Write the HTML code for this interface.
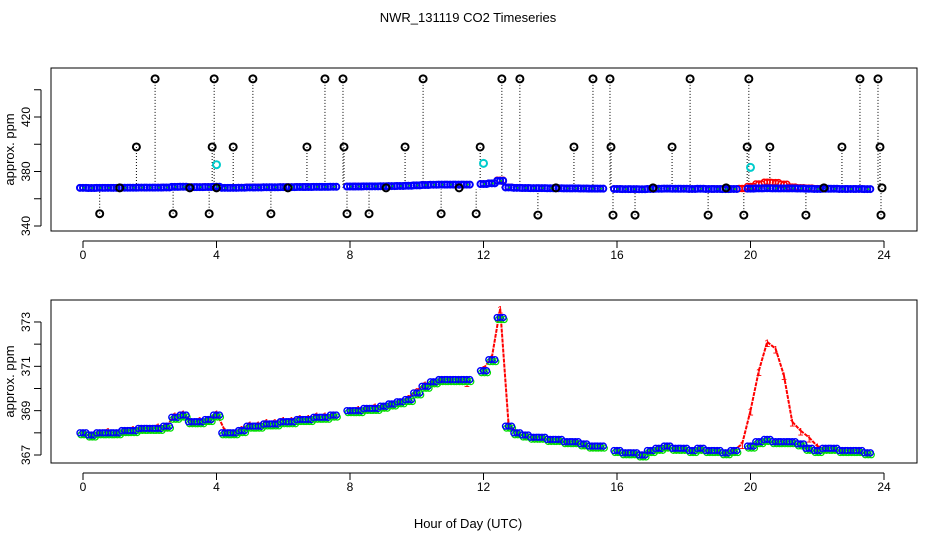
<!DOCTYPE html>
<html><head><meta charset="utf-8"><style>
body{margin:0;background:#fff;}
svg text{font-family:"Liberation Sans",sans-serif;}
</style></head><body>
<svg id="c" width="936" height="540" xmlns="http://www.w3.org/2000/svg">
<rect width="936" height="540" fill="#fff"/>
<text x="468" y="22" font-size="13" text-anchor="middle">NWR_131119  CO2 Timeseries</text>
<text x="468" y="528" font-size="13" text-anchor="middle">Hour of Day (UTC)</text>
<g id="top"></g><g id="bot"></g>
</svg>
<script>
const hours = [];
for (let i = 0; i < 96; i++) hours.push(i * 0.25);
const blueVals = [368.0,367.9,368.0,368.0,368.0,368.1,368.1,368.2,368.2,368.2,368.3,368.7,368.8,368.5,368.5,368.6,368.8,368.0,368.0,368.1,368.3,368.3,368.4,368.4,368.5,368.5,368.6,368.6,368.7,368.7,368.8,null,369.0,369.0,369.1,369.1,369.2,369.3,369.4,369.5,369.8,370.1,370.3,370.4,370.4,370.4,370.4,null,370.8,371.3,373.2,368.3,368.0,367.9,367.8,367.8,367.7,367.7,367.6,367.6,367.5,367.4,367.4,null,367.2,367.1,367.1,367.0,367.2,367.3,367.4,367.3,367.3,367.2,367.3,367.2,367.2,367.1,367.2,null,367.4,367.6,367.7,367.6,367.6,367.6,367.5,367.3,367.2,367.3,367.3,367.2,367.2,367.2,367.1,null];
const redVals = [368.0,367.9,368.0,368.1,368.0,368.1,368.2,368.2,368.2,368.3,368.3,368.8,368.9,368.5,368.6,368.6,368.9,368.1,368.0,368.2,368.4,368.4,368.5,368.5,368.6,368.6,368.7,368.7,368.8,368.8,368.8,null,369.0,369.1,369.1,369.2,369.2,369.3,369.4,369.6,369.9,370.2,370.3,370.4,370.4,370.4,370.3,null,370.9,371.4,373.6,368.4,368.0,367.9,367.8,367.8,367.7,367.7,367.6,367.6,367.5,367.4,367.4,null,367.2,367.1,367.1,367.0,367.2,367.3,367.4,367.3,367.3,367.2,367.3,367.2,367.2,367.1,367.2,367.5,369.0,370.8,372.1,371.8,370.6,368.5,368.1,367.8,367.4,367.3,367.3,367.2,367.2,367.2,367.1,null];
const outHours = [0.5,1.1,1.6,2.16,2.7,3.2,3.78,3.87,3.93,4.0,4.5,5.09,5.63,6.14,6.71,7.25,7.79,7.82,7.91,8.57,9.08,9.65,10.19,10.73,11.27,11.78,11.9,12.55,13.09,13.63,14.17,14.71,15.28,15.79,15.82,15.88,16.54,17.08,17.65,18.19,18.73,19.27,19.8,19.9,19.95,20.58,21.66,22.2,22.74,23.28,23.82,23.88,23.91,23.94];
const outVals = [349,368,398,448,349,368,349,398,448,368,398,448,349,368,398,448,448,398,349,349,368,398,448,349,368,349,398,448,448,348,368,398,448,448,398,348,348,368,398,448,348,368,348,398,448,398,348,368,398,448,448,398,348,368];
const cyanHours = [4.0,12.0,20.0];
const cyanVals = [385,386,383];
const topTicks = [340,360,380,400,420,440];
const topLabels = [340,380,420];
const botTicks = [367,368,369,370,371,372,373];
const botLabels = [367,369,371,373];
const xTicks = [0,4,8,12,16,20,24];

const NS = "http://www.w3.org/2000/svg";
function mk(p, t, a){const e=document.createElementNS(NS,t);for(const k in a)e.setAttribute(k,a[k]);p.appendChild(e);return e;}
const X = h => 83 + h * 33.375;
const Yt = v => 226 - (v - 340) * 1.3625;
const Yb = v => 455 - (v - 367) * 22.17;

function axes(g, top, bottom, ticks, labels, Y, name){
  const b = mk(g,'rect',{x:51,y:top,width:866,height:bottom-top,fill:'none',stroke:'#000','stroke-width':1});
   
  mk(g,'line',{x1:X(0),x2:X(24),y1:bottom+10,y2:bottom+10,stroke:'#000'});
  xTicks.forEach(t=>{
    mk(g,'line',{x1:X(t),x2:X(t),y1:bottom+10,y2:bottom+17,stroke:'#000'});
    const tx = mk(g,'text',{x:X(t),y:bottom+28,'font-size':12,'text-anchor':'middle'}); tx.textContent=t;
     
  });
  mk(g,'line',{x1:41,x2:41,y1:Y(ticks[0]),y2:Y(ticks[ticks.length-1]),stroke:'#000'});
  ticks.forEach(t=>mk(g,'line',{x1:34,x2:41,y1:Y(t),y2:Y(t),stroke:'#000'}));
  labels.forEach(t=>{
    const tx=mk(g,'text',{x:0,y:0,'font-size':12,'text-anchor':'middle',transform:`translate(30,${Y(t)}) rotate(-90)`}); tx.textContent=t;
     
  });
  const yl=mk(g,'text',{x:0,y:0,'font-size':13,'text-anchor':'middle',transform:`translate(14,${(top+bottom)/2}) rotate(-90)`}); yl.textContent='approx. ppm';
   
}
const gt=document.getElementById('top'), gb=document.getElementById('bot');
 
 
axes(gt,68,231,topTicks,topLabels,Yt,'top');
axes(gb,300,463,botTicks,botLabels,Yb,'bottom');

outHours.forEach((h,i)=>{
  mk(gt,'line',{x1:X(h),x2:X(h),y1:Yt(outVals[i]),y2:Yt(367),stroke:'#000','stroke-dasharray':'1,2'});
});
hours.forEach((h,i)=>{
  if(redVals[i]!=null){for(let d=-3;d<=3;d+=3){const c=mk(gt,'circle',{cx:X(h)+d,cy:Yt(redVals[i]),r:3,fill:'none',stroke:'#f00','stroke-width':1.5});
     }}
});
hours.forEach((h,i)=>{
  if(blueVals[i]!=null){for(let d=-3;d<=3;d+=3){const c=mk(gt,'circle',{cx:X(h)+d,cy:Yt(blueVals[i]),r:3,fill:'none',stroke:'#00f','stroke-width':2});
     }
    mk(gt,'circle',{cx:X(h)+1,cy:Yt(blueVals[i]),r:1,fill:'#0c0'});}
});
outHours.forEach((h,i)=>{
  const c=mk(gt,'circle',{cx:X(h),cy:Yt(outVals[i]),r:3.5,fill:'none',stroke:'#000','stroke-width':2});
   
});
cyanHours.forEach((h,i)=>{
  const c=mk(gt,'circle',{cx:X(h),cy:Yt(cyanVals[i]),r:3.5,fill:'none',stroke:'#0cc','stroke-width':2});
   
});

let pr=null;
hours.forEach((h,i)=>{
  const v=redVals[i];
  if(v!=null&&pr!=null) mk(gb,'line',{x1:X(hours[i-1]),y1:Yb(pr),x2:X(h),y2:Yb(v),stroke:'#f00','stroke-width':2,'stroke-dasharray':'4,1'});
  pr=v;
});
hours.forEach((h,i)=>{
  const v=redVals[i]; if(v==null) return;
  const t=mk(gb,'text',{x:X(h),y:Yb(v)+5,'font-size':11,fill:'#f00','text-anchor':'middle'}); t.textContent='1';
   
});
hours.forEach((h,i)=>{
  const v=blueVals[i]; if(v==null) return;
  for(let d=-3;d<=3;d+=3){
    const g=mk(gb,'circle',{cx:X(h)+d+1,cy:Yb(v)+2,r:3,fill:'none',stroke:'#0d0','stroke-width':1.2});
     
    const c=mk(gb,'circle',{cx:X(h)+d,cy:Yb(v),r:3,fill:'none',stroke:'#00f','stroke-width':1.4});
     
  }
});
</script>
</body></html>
